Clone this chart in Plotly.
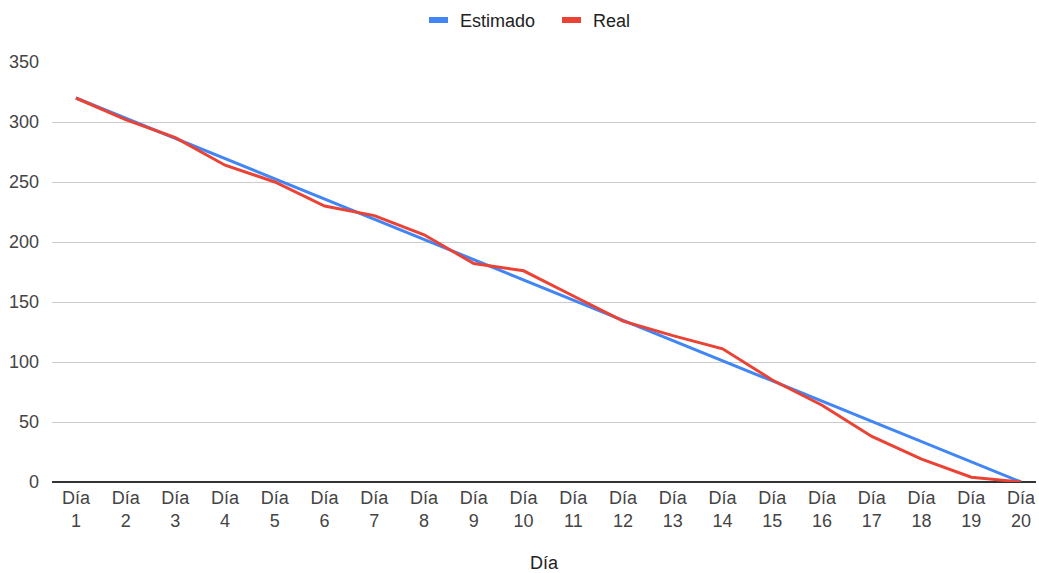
import plotly.graph_objects as go

dias = [f"Día<br>{i}" for i in range(1, 21)]
estimado = [320, 303.2, 286.3, 269.5, 252.6, 235.8, 218.9, 202.1, 185.3, 168.4,
            151.6, 134.7, 117.9, 101.1, 84.2, 67.4, 50.5, 33.7, 16.8, 0]
real = [320, 302, 287, 264, 250, 230, 222, 206, 182, 176,
        155, 134, 122, 111, 85, 64, 38, 19, 4, 0]
y_ticks = [0, 50, 100, 150, 200, 250, 300, 350]
series_names = ["Estimado", "Real"]
series_colors = ["#4285F4", "#EA4335"]

x = list(range(len(dias)))
FONT = "Liberation Sans, Arial, sans-serif"

fig = go.Figure()
for name, vals, col in zip(series_names, [estimado, real], series_colors):
    fig.add_trace(go.Scatter(x=x, y=vals, mode="lines", name=name, showlegend=False,
                             line=dict(color=col, width=3)))

# custom legend (short thick bars like the reference)
legend_x = [(429, 458), (562, 591)]
W, H = 1039, 573
L, R, T, B = 52, 3, 62, 91
pw = W - L - R
for (bx, tx), name, col in zip(legend_x, series_names, series_colors):
    fig.add_shape(type="rect", xref="paper", yref="paper",
                  x0=(bx - L) / pw, x1=(bx + 19 - L) / pw,
                  y0=1 + (T - 23) / (H - T - B), y1=1 + (T - 17) / (H - T - B),
                  fillcolor=col, line=dict(width=0))
    fig.add_annotation(xref="paper", yref="paper", x=(tx - L) / pw,
                       y=1 + (T - 21) / (H - T - B), text=name, showarrow=False,
                       xanchor="left", yanchor="middle",
                       font=dict(family=FONT, size=18, color="#222222"))

fig.update_layout(
    width=W, height=H,
    margin=dict(l=L, r=R, t=T, b=B),
    paper_bgcolor="white", plot_bgcolor="white",
    font=dict(family=FONT, size=18, color="#222222"),
    showlegend=False,
    xaxis=dict(tickmode="array", tickvals=x, ticktext=dias, range=[-0.48, 19.3],
               showgrid=False, zeroline=False, ticks="", ticklabelstandoff=3,
               automargin=False,
               title=dict(text="Día", font=dict(size=18, color="#222222"), standoff=37),
               tickfont=dict(size=18, color="#444444")),
    yaxis=dict(tickmode="array", tickvals=y_ticks, range=[0, 350],
               showgrid=True, gridcolor="#cccccc", gridwidth=1,
               zeroline=True, zerolinecolor="#333333", zerolinewidth=1.5,
               ticks="", ticklabelstandoff=12, automargin=False,
               tickfont=dict(size=18, color="#444444")),
)

fig.write_html("out.html")
